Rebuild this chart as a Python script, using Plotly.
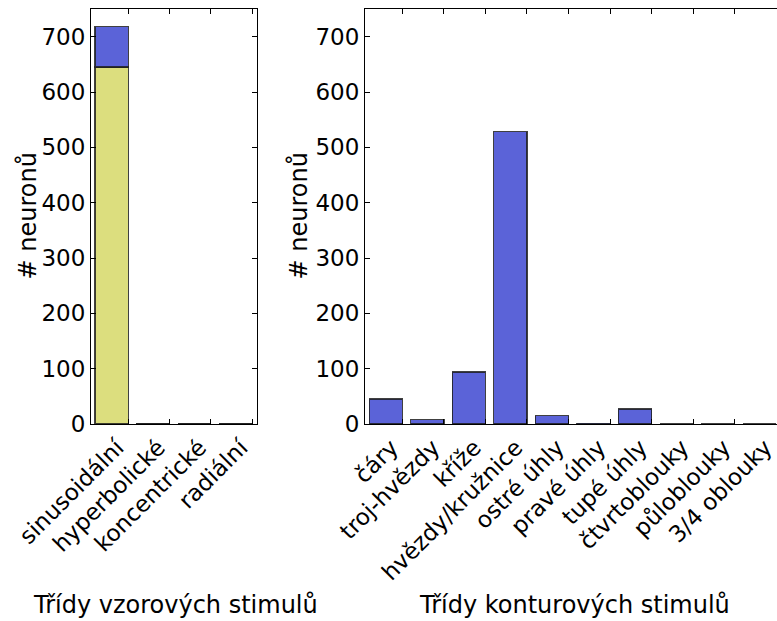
import plotly.graph_objects as go
from plotly.subplots import make_subplots

# Pattern-stimulus classes (stacked: two neuron groups)
pattern_classes = ["sinusoidální", "hyperbolické", "koncentrické", "radiální"]
pattern_lower = [645, 0, 0, 0]
pattern_upper = [73, 0, 0, 0]

# Contour-stimulus classes
contour_classes = ["čáry", "troj-hvězdy", "kříže", "hvězdy/kružnice", "ostré úhly",
                   "pravé úhly", "tupé úhly", "čtvrtoblouky", "půloblouky", "3/4 oblouky"]
contour_counts = [45, 8, 94, 528, 15, 1, 27, 0, 0, 0]

y_ticks = [0, 100, 200, 300, 400, 500, 600, 700]

BLUE = "#5b63d8"
YELLOW = "#dcde7e"
EDGE = "rgba(30,30,30,0.85)"
FONT = "DejaVu Sans"
FS_TICK = 23
FS_TITLE = 24

BAR_W = 0.8

fig = make_subplots(rows=1, cols=2)

px = [i + BAR_W / 2 for i in range(len(pattern_classes))]
cx = [i + BAR_W / 2 for i in range(len(contour_classes))]

fig.add_trace(go.Bar(x=px, y=pattern_lower, width=BAR_W, marker_color=YELLOW,
                     marker_line=dict(color=EDGE, width=1.3), showlegend=False),
              row=1, col=1)
fig.add_trace(go.Bar(x=px, y=pattern_upper, width=BAR_W, marker_color=BLUE,
                     marker_line=dict(color=EDGE, width=1.3), showlegend=False),
              row=1, col=1)
fig.add_trace(go.Bar(x=cx, y=contour_counts, width=BAR_W, marker_color=BLUE,
                     marker_line=dict(color=EDGE, width=1.3), showlegend=False),
              row=1, col=2)

W, H = 777, 621
L, R, T, B = 91, 0, 9, 197
PW = W - L - R
PH = H - T - B

def px2x(p):
    return (p - L) / PW

def py2y(p):
    return (H - B - p) / PH

axis_common = dict(showline=True, linecolor="black", linewidth=1, mirror="ticks",
                   ticks="inside", ticklen=5, tickcolor="black", tickwidth=1,
                   showgrid=False, zeroline=False, automargin=False,
                   ticklabeloverflow="allow",
                   tickfont=dict(family=FONT, size=FS_TICK, color="black"))

fig.update_xaxes(axis_common)
fig.update_yaxes(axis_common)

fig.update_xaxes(domain=[0, px2x(257)], range=[-0.1, 3.92],
                 tickvals=[i + BAR_W for i in range(len(pattern_classes))],
                 ticktext=pattern_classes, tickangle=-45, ticklabelshift=-11,
                 row=1, col=1)
fig.update_xaxes(domain=[px2x(365), 1.0], range=[-0.1, 9.82],
                 tickvals=[i + BAR_W for i in range(len(contour_classes))],
                 ticktext=contour_classes, tickangle=-45, ticklabelshift=-11,
                 row=1, col=2)
fig.update_yaxes(range=[0, 750], tickvals=y_ticks, ticklabelstandoff=0, row=1, col=1)
fig.update_yaxes(range=[0, 750], tickvals=y_ticks, ticklabelstandoff=0,
                 mirror=False, row=1, col=2)

ann_font = dict(family=FONT, size=FS_TITLE, color="black")
fig.add_annotation(text="# neuronů", xref="paper", yref="paper", x=px2x(27), y=0.5,
                   textangle=-90, showarrow=False, font=ann_font,
                   xanchor="center", yanchor="middle")
fig.add_annotation(text="# neuronů", xref="paper", yref="paper", x=px2x(298), y=0.5,
                   textangle=-90, showarrow=False, font=ann_font,
                   xanchor="center", yanchor="middle")
fig.add_annotation(text="Třídy vzorových stimulů", xref="paper", yref="paper",
                   x=px2x(175), y=py2y(605), showarrow=False, font=ann_font,
                   xanchor="center", yanchor="middle")
fig.add_annotation(text="Třídy konturových stimulů", xref="paper", yref="paper",
                   x=px2x(574), y=py2y(605), showarrow=False, font=ann_font,
                   xanchor="center", yanchor="middle")

fig.update_layout(barmode="stack", width=W, height=H, autosize=False,
                  margin=dict(l=L, r=R, t=T, b=B, pad=0, autoexpand=False),
                  paper_bgcolor="white", plot_bgcolor="white",
                  font=dict(family=FONT, size=FS_TICK, color="black"))

fig.write_html("out.html")
